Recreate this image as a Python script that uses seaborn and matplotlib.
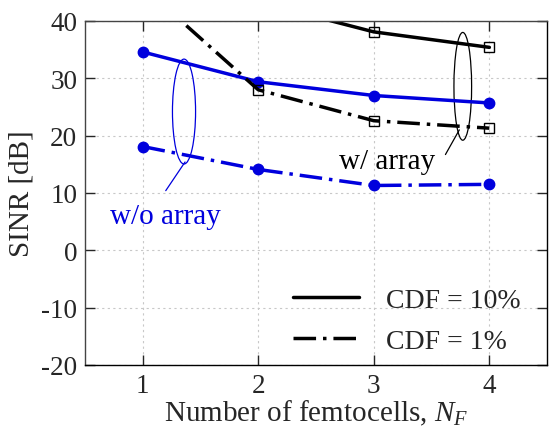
import matplotlib
matplotlib.use("Agg")
import matplotlib.pyplot as plt
from matplotlib.lines import Line2D
from matplotlib.patches import Ellipse
import seaborn as sns
import pandas as pd

femtocells = [1, 2, 3, 4]
wo_array_cdf10 = [34.6, 29.4, 27.0, 25.7]
wo_array_cdf1 = [18.1, 14.1, 11.3, 11.5]
w_array_cdf10 = [50.0, 43.3, 38.1, 35.4]
w_array_cdf1 = [46.0, 28.0, 22.6, 21.3]
yticks = [-20, -10, 0, 10, 20, 30, 40]

sns.set_theme(style="ticks")
plt.rcParams['font.family'] = ['Liberation Serif', 'DejaVu Serif']
plt.rcParams['mathtext.fontset'] = 'custom'
plt.rcParams['mathtext.it'] = 'Liberation Serif:italic'
plt.rcParams['mathtext.rm'] = 'Liberation Serif'
plt.rcParams['axes.unicode_minus'] = False

TFS = 19.5  # tick labels
LFS = 21    # axis labels / annotations
GFS = 20    # legend
fig = plt.figure(figsize=(5.51, 4.31), dpi=100)
ax = fig.add_axes([0.154, 0.151, 0.839, 0.798])

blue = '#0000dd'
dd = (6.5, 2.0, 1.0, 2.0)
LW = 2.5

def draw(y, color, marker, dashed, mfc, ms):
    df = pd.DataFrame({'x': femtocells, 'y': y})
    sns.lineplot(data=df, x='x', y='y', color=color, linewidth=LW, ax=ax,
                 marker=marker, markersize=ms, markerfacecolor=mfc,
                 markeredgecolor=color, markeredgewidth=1.0)
    line = ax.lines[-1]
    if dashed:
        line.set_dashes(dd)
    return line

draw(wo_array_cdf10, blue, 'o', False, blue, 7.5)
draw(wo_array_cdf1, blue, 'o', True, blue, 7.5)
draw(w_array_cdf10, 'black', 's', False, 'none', 6.5)
draw(w_array_cdf1, 'black', 's', True, 'none', 6.5)

ax.set_xlim(0.5, 4.5)
ax.set_ylim(-20, 40)
ax.set_xticks(femtocells)
ax.set_yticks(yticks)
ax.tick_params(direction='in', top=True, right=True, labelsize=TFS, length=7, width=1.0)
ax.tick_params(axis='x', pad=6)
ax.tick_params(axis='y', pad=5.5)
ax.grid(True, linestyle=(0, (2, 3)), color='#c8c8c8', linewidth=0.8)
for s in ax.spines.values():
    s.set_linewidth(1.0)
    s.set_color('black')
ax.spines['top'].set_color('#444444')
ax.spines['left'].set_color('#444444')

ax.set_xlabel('Number of femtocells, $N_F$', fontsize=LFS)
ax.set_ylabel('SINR [dB]', fontsize=LFS)
ax.xaxis.set_label_coords(0.5, -0.096)
ax.yaxis.set_label_coords(-0.108, 0.5)

# annotations
ax.add_patch(Ellipse((1.358, 24.2), 0.2, 18.3, fill=False, edgecolor=blue, linewidth=0.9))
ax.plot([1.367, 1.20], [15.4, 10.4], color=blue, linewidth=0.9)
ax.text(1.20, 6.0, 'w/o array', color=blue, fontsize=LFS, ha='center', va='center')

ax.add_patch(Ellipse((3.77, 28.6), 0.153, 18.8, fill=False, edgecolor='black', linewidth=0.9))
ax.plot([3.74, 3.62], [21.0, 16.7], color='black', linewidth=0.9)
ax.text(3.115, 15.65, 'w/ array', color='black', fontsize=LFS, ha='center', va='center')

handles = [Line2D([0], [0], color='black', linewidth=LW),
           Line2D([0], [0], color='black', linewidth=LW, dashes=dd)]
ax.legend(handles, ['CDF = 10%', 'CDF = 1%'], loc='center left', frameon=False,
          fontsize=GFS, handlelength=2.37, handletextpad=1.0, labelspacing=0.56,
          borderpad=0, borderaxespad=0,
          bbox_to_anchor=(2.30, -12.3), bbox_transform=ax.transData)

fig.savefig('out.png', dpi=100)
